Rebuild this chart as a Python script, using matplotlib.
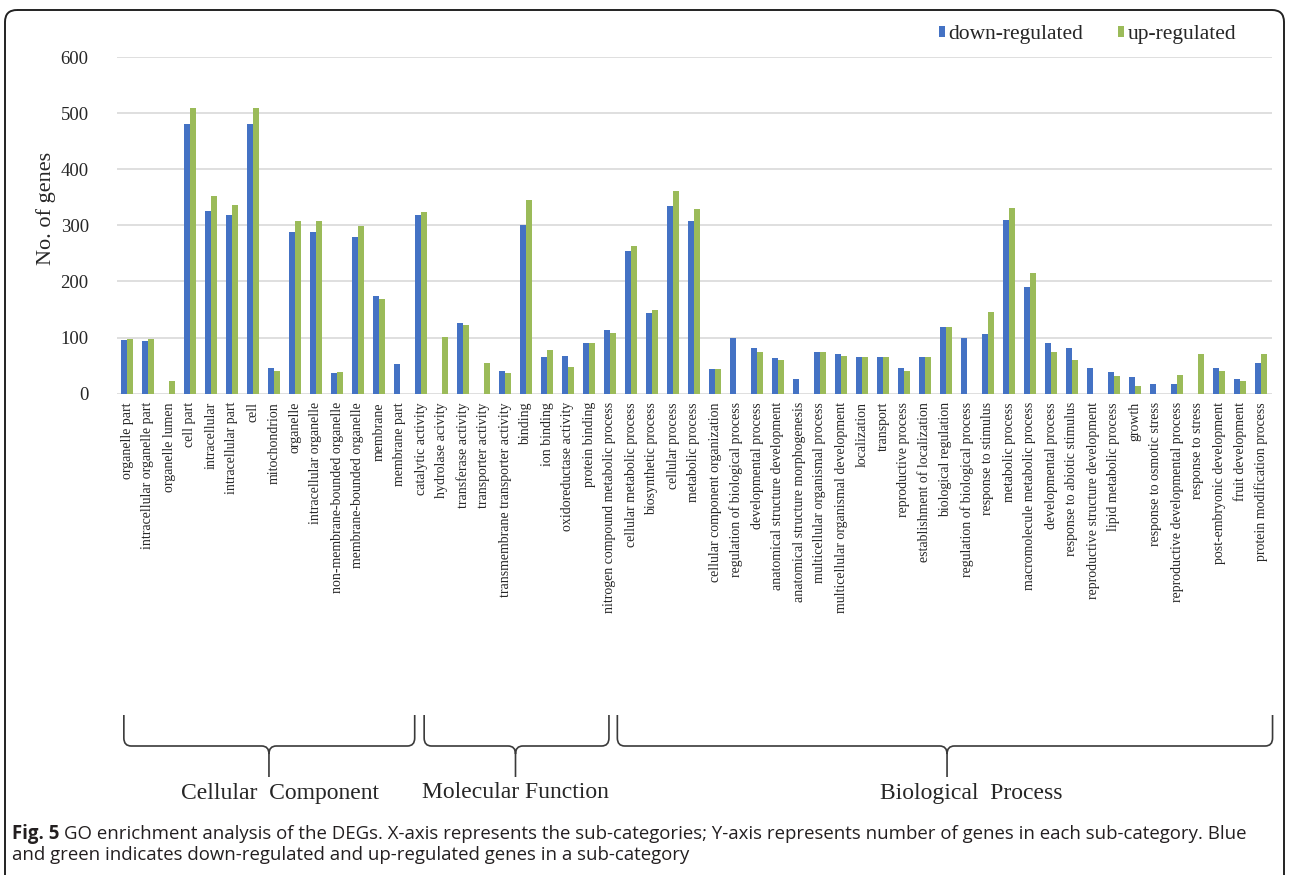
import numpy as np
import matplotlib
matplotlib.use("Agg")
import matplotlib.pyplot as plt
from matplotlib.path import Path
from matplotlib.patches import PathPatch, FancyBboxPatch
from matplotlib import transforms

# GO sub-categories (x axis)
categories = [
    "organelle part", "intracellular organelle part", "organelle lumen", "cell part",
    "intracellular", "intracellular part", "cell", "mitochondrion", "organelle",
    "intracellular organelle", "non-membrane-bounded organelle", "membrane-bounded organelle",
    "membrane", "membrane part",
    "catalytic activity", "hydrolase acivity", "transferase activity", "transporter activity",
    "transmembrane transporter activity", "binding", "ion binding", "oxidoreductase activity",
    "protein binding",
    "nitrogen compound metabolic process", "cellular metabolic process", "biosynthetic process",
    "cellular process", "metabolic process", "cellular component organization",
    "regulation of biological process", "developmental process",
    "anatomical structure development", "anatomical structure morphogenesis",
    "multicellular organismal process", "multicellular organismal development", "localization",
    "transport", "reproductive process", "establishment of localization",
    "biological regulation", "regulation of biological process", "response to stimulus",
    "metabolic process", "macromolecule metabolic process", "developmental process",
    "response to abiotic stimulus", "reproductive structure development",
    "lipid metabolic process", "growth", "response to osmotic stress",
    "reproductive developmental process", "response to stress", "post-embryonic development",
    "fruit development", "protein modification process",
]

down = [95, 94, 0, 480, 326, 318, 480, 46, 289, 289, 37, 279, 174, 53,
        318, 0, 126, 0, 41, 300, 65, 67, 90,
        113, 254, 143, 335, 308, 44, 99, 82, 63, 27, 75, 70, 65, 65, 46, 65,
        119, 99, 107, 309, 191, 90, 82, 46, 39, 29, 17, 17, 0, 46, 27, 55]
up = [98, 98, 23, 510, 352, 336, 510, 41, 308, 308, 39, 299, 168, 0,
      323, 101, 123, 55, 36, 345, 78, 48, 91,
      109, 263, 149, 362, 330, 44, 0, 75, 60, 0, 75, 67, 65, 65, 41, 65,
      119, 0, 145, 331, 215, 75, 60, 0, 32, 14, 0, 33, 70, 41, 22, 70]

# groups: (label, first index, last index)
groups = [("Cellular  Component", 0, 13), ("Molecular Function", 14, 22), ("Biological  Process", 23, 54)]

BLUE = "#4472C4"
GREEN = "#9BBB59"
TXT = "#262626"
SERIF = "Liberation Serif"

W, H = 1290, 875
fig = plt.figure(figsize=(W / 100, H / 100), dpi=100)

# overlay in pixel coordinates (y from top) for frame / braces
ov = fig.add_axes([0, 0, 1, 1])
ov.set_xlim(0, W)
ov.set_ylim(H, 0)
ov.axis("off")
ov.add_patch(FancyBboxPatch((5, 10), 1279, 900, boxstyle="round,pad=0,rounding_size=12",
                            fc="none", ec="#222222", lw=1.4))

ax = fig.add_axes([116.5 / W, 1 - 393.7 / H, 1155 / W, (393.7 - 57) / H])
ax.patch.set_alpha(0)
x = np.arange(len(categories))
ax.bar(x - 0.145, down, 0.26, color=BLUE, label="down-regulated", zorder=3)
ax.bar(x + 0.145, up, 0.26, color=GREEN, label="up-regulated", zorder=3)

ax.set_xlim(-0.5, len(categories) - 0.5)
ax.set_ylim(0, 600)
ax.set_yticks(range(0, 601, 100))
ax.grid(axis="y", color="#d9d9d9", lw=1.2, zorder=0)
for s in ax.spines.values():
    s.set_visible(False)
ax.tick_params(length=0)
ax.tick_params(axis="y", pad=20, labelsize=13.5, labelcolor=TXT)
ax.set_xticks(x)
ax.set_xticklabels(categories, rotation=90, fontsize=10, color=TXT, family=SERIF, va="top")
ax.tick_params(axis="x", pad=6)
for t in ax.get_yticklabels():
    t.set_family(SERIF)
ax.set_ylabel("No. of genes", family=SERIF, fontsize=16, color=TXT)
ax.yaxis.set_label_coords(-0.052, 0.55)

ax.legend(loc="center right", bbox_to_anchor=(1236 / W, 1 - 35 / H), bbox_transform=fig.transFigure,
          ncol=2, frameon=False, prop={"family": SERIF, "size": 15.5},
          handlelength=0.3, handleheight=0.4, handletextpad=0.15, columnspacing=1.6,
          labelcolor=TXT, borderaxespad=0, borderpad=0)

# braces under category groups: x in category units, y in pixels from top
bt = transforms.blended_transform_factory(ax.transData, ov.transData)


def brace(x0, x1, xm, ytop=715, ymid=746, ybot=777, rx=0.35, ry=8):
    v = [(x0, ytop), (x0, ymid - ry), (x0, ymid), (x0 + rx, ymid), (xm - rx, ymid), (xm, ymid),
         (xm, ymid + ry), (xm, ybot),
         (xm, ymid + ry), (xm, ymid), (xm + rx, ymid), (x1 - rx, ymid), (x1, ymid), (x1, ymid - ry),
         (x1, ytop)]
    c = [Path.MOVETO, Path.LINETO, Path.CURVE3, Path.CURVE3, Path.LINETO, Path.CURVE3, Path.CURVE3,
         Path.LINETO,
         Path.MOVETO, Path.CURVE3, Path.CURVE3, Path.LINETO, Path.CURVE3, Path.CURVE3, Path.LINETO]
    ov.add_patch(PathPatch(Path(v, c), transform=bt, fc="none", ec="#3a3a3a", lw=1.2))


brace_ends = [(-0.15, 13.7, 6.76), (14.15, 22.95, 18.5), (23.35, 54.55, 39.05)]
label_x = [7.3, 18.5, 40.2]
for (name, a, b), (x0, x1, xm), lx in zip(groups, brace_ends, label_x):
    brace(x0, x1, xm)
    ov.text(lx, 793, name, transform=bt, ha="center", va="center",
            family=SERIF, fontsize=17, color=TXT)

# caption
cap_font = "Open Sans"
cap_size = 13.4
fb = fig.text(12 / W, 1 - 834 / H, "Fig. 5", family=cap_font, weight="bold", fontsize=cap_size,
              color="#231f20", va="center")
fig.canvas.draw()
bb = fb.get_window_extent()
fig.text((bb.x1 + 5) / W, 1 - 834 / H,
         "GO enrichment analysis of the DEGs. X-axis represents the sub-categories; Y-axis represents "
         "number of genes in each sub-category. Blue",
         family=cap_font, fontsize=cap_size, color="#231f20", va="center")
fig.text(12 / W, 1 - 855 / H,
         "and green indicates down-regulated and up-regulated genes in a sub-category",
         family=cap_font, fontsize=cap_size, color="#231f20", va="center")

fig.savefig("out.png", dpi=100)
